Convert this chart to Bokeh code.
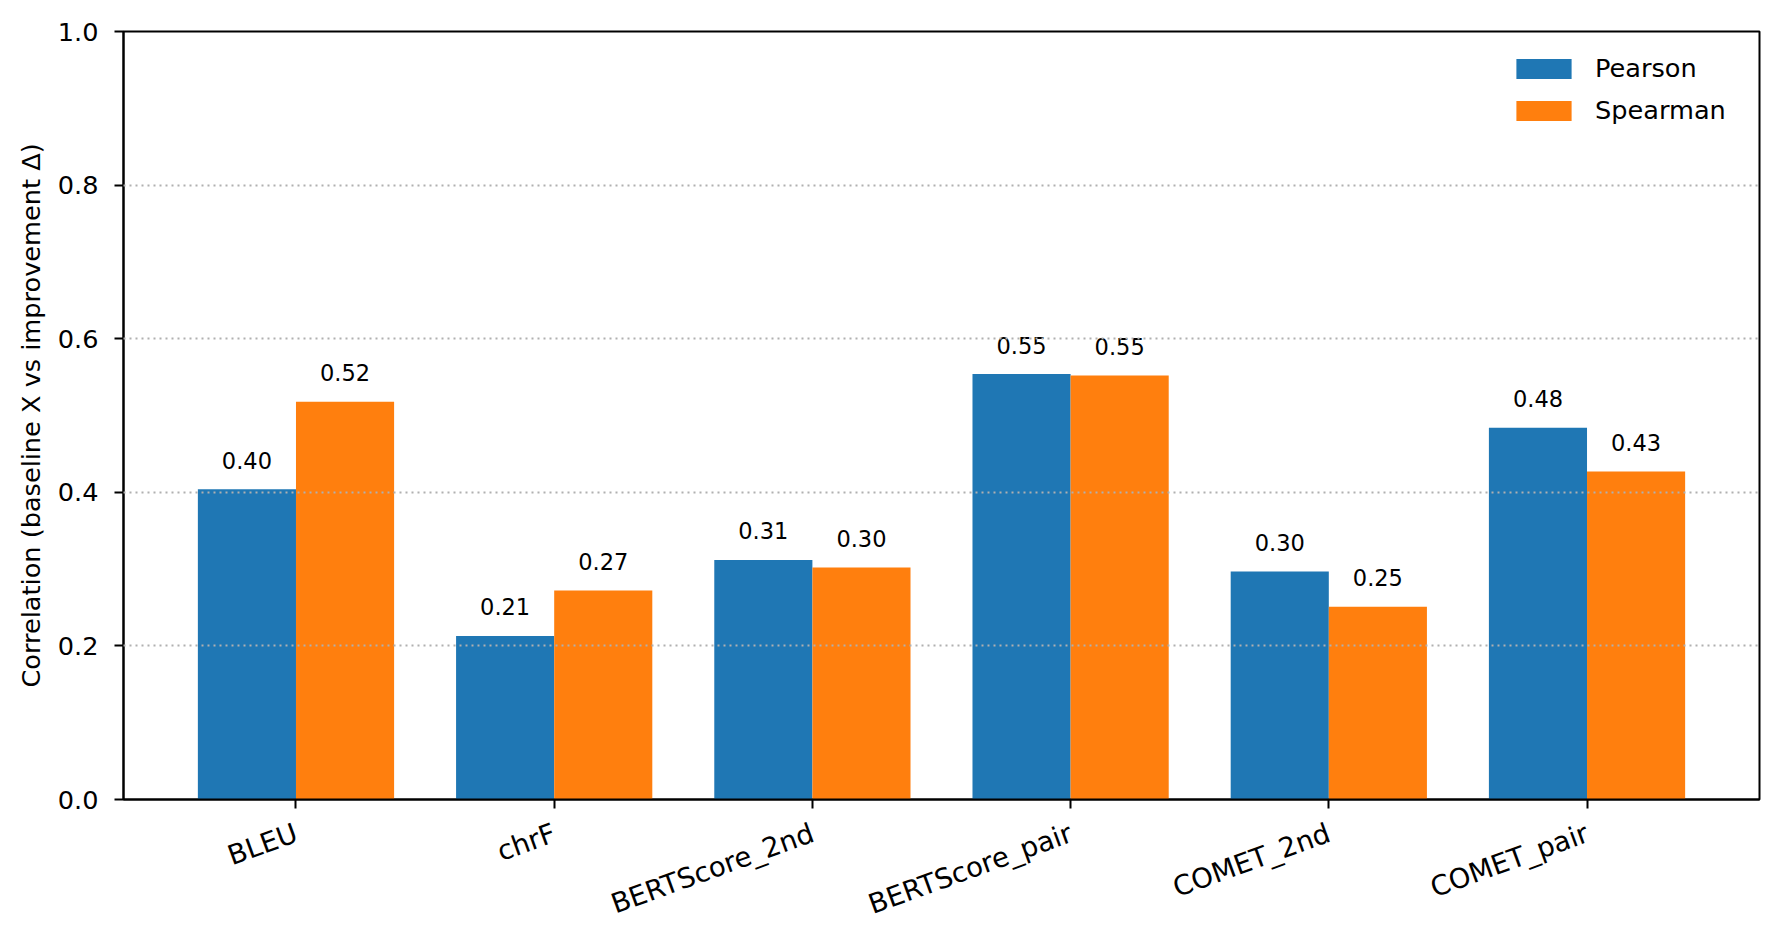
import math
from bokeh.plotting import figure
from bokeh.models import ColumnDataSource, FactorRange, Range1d, Legend, LegendItem, FixedTicker
from bokeh.transform import dodge
from bokeh.core.properties import value
from bokeh.embed import file_html
from bokeh.resources import INLINE

metrics = ["BLEU", "chrF", "BERTScore_2nd", "BERTScore_pair", "COMET_2nd", "COMET_pair"]
pearson = [0.404, 0.213, 0.312, 0.554, 0.297, 0.484]
spearman = [0.518, 0.272, 0.302, 0.552, 0.251, 0.427]
series_names = ["Pearson", "Spearman"]
y_ticks = [0.0, 0.2, 0.4, 0.6, 0.8, 1.0]

source = ColumnDataSource(dict(
    metric=metrics,
    pearson=pearson,
    spearman=spearman,
    pearson_lbl=[f"{v:.2f}" for v in pearson],
    spearman_lbl=[f"{v:.2f}" for v in spearman],
))

FONT = "DejaVu Sans"

xr = FactorRange(factors=metrics, range_padding=0.168, range_padding_units="absolute", factor_padding=0)

p = figure(
    x_range=xr, y_range=Range1d(0, 1),
    frame_width=1636, frame_height=768,
    min_border_left=123, min_border_right=13, min_border_top=31, min_border_bottom=125,
    output_backend="svg", toolbar_location=None,
    background_fill_color="white", border_fill_color="white",
)

bw = 0.38
r1 = p.vbar(x=dodge("metric", -0.19, range=p.x_range), top="pearson", width=bw,
            source=source, fill_color="#1f77b4", line_color=None)
r2 = p.vbar(x=dodge("metric", 0.19, range=p.x_range), top="spearman", width=bw,
            source=source, fill_color="#ff7f0e", line_color=None)

for off, col in ((-0.19, "pearson_lbl"), (0.19, "spearman_lbl")):
    top_col = col.replace("_lbl", "")
    p.text(x=dodge("metric", off, range=p.x_range), y=top_col, text=col, source=source,
           text_align="center", text_baseline="alphabetic", y_offset=-29,
           text_font=value(FONT), text_font_size="22.5px", text_color="black")

# grid
p.xgrid.grid_line_color = None
p.ygrid.ticker = FixedTicker(ticks=y_ticks)
p.ygrid.grid_line_color = "#b0b0b0"
p.ygrid.grid_line_width = 2
p.ygrid.grid_line_dash = "2 4"
p.ygrid.level = "overlay"

# axes
p.yaxis.ticker = FixedTicker(ticks=y_ticks)
p.yaxis.major_label_overrides = {t: f"{t:.1f}" for t in y_ticks}
p.yaxis.axis_label = "Correlation (baseline X vs improvement \u0394)"
for ax in (p.xaxis[0], p.yaxis[0]):
    ax.axis_line_color = "black"
    ax.axis_line_width = 2
    ax.major_tick_line_color = "black"
    ax.major_tick_line_width = 2
    ax.major_tick_out = 9
    ax.major_tick_in = 0
    ax.minor_tick_line_color = None
    ax.major_label_text_font = FONT
    ax.major_label_text_font_size = "25.6px"
    ax.major_label_text_color = "black"
p.xaxis.major_label_text_font_size = "27.5px"
p.yaxis.major_label_standoff = 16
p.yaxis.axis_label_text_font = FONT
p.yaxis.axis_label_text_font_size = "25.6px"
p.yaxis.axis_label_text_font_style = "normal"
p.yaxis.axis_label_text_color = "black"
p.yaxis.axis_label_standoff = 9
p.xaxis.major_label_orientation = math.radians(20)
p.xaxis.major_label_standoff = 23

p.outline_line_color = "black"
p.outline_line_width = 2
p.outline_line_alpha = 1

legend = Legend(items=[LegendItem(label=series_names[0], renderers=[r1]),
                       LegendItem(label=series_names[1], renderers=[r2])],
                location="top_right", margin=22, padding=0, spacing=12,
                glyph_width=69, glyph_height=25, label_standoff=17, label_width=142,
                label_text_font=FONT, label_text_font_size="25.6px", label_text_color="black",
                border_line_color=None, background_fill_alpha=0)
p.add_layout(legend)

open("out.html", "w").write(file_html(p, INLINE))
